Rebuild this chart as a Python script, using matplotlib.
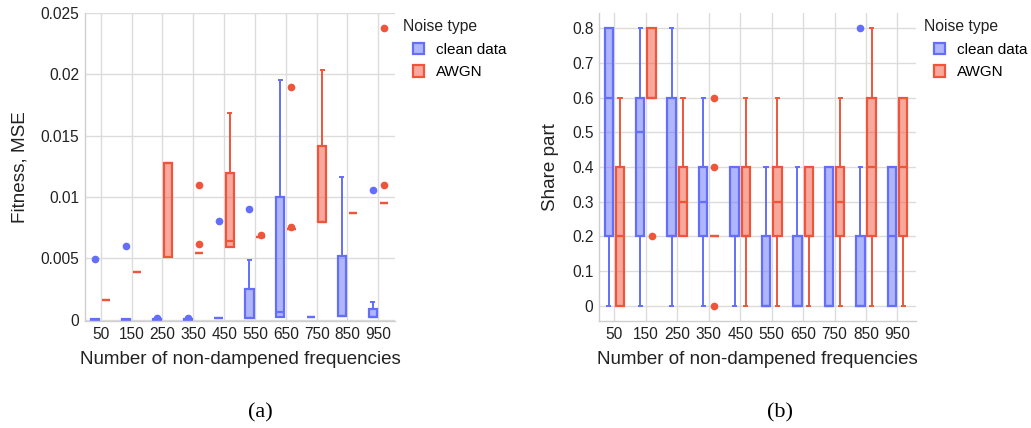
import matplotlib.pyplot as plt
from matplotlib.patches import Patch

freqs = [50, 150, 250, 350, 450, 550, 650, 750, 850, 950]
series = ["clean data", "AWGN"]
colors = ["#636EFA", "#EF553B"]

# (a) Fitness, MSE -- box statistics
mse_clean_lo = [0, 0, 0, 0, 0.0001, 0.0001, 0.00019, 0.00024, 0.00027, 0.00024]
mse_clean_q1 = [0, 0, 0, 0, 0.0001, 0.0001, 0.00019, 0.00024, 0.00027, 0.00024]
mse_clean_med = [0, 0, 0, 0, 0.0001, 0.0001, 0.00063, 0.00024, 0.00027, 0.00024]
mse_clean_q3 = [0.00003, 0.00003, 0.00003, 0.00003, 0.00012, 0.00253, 0.0100, 0.00024, 0.00516, 0.00084]
mse_clean_hi = [0.00003, 0.00003, 0.00003, 0.00003, 0.00012, 0.00489, 0.01956, 0.00024, 0.01163, 0.00141]
mse_clean_out = [[0.0049], [0.00596], [0.00012], [0.0001], [0.008], [0.00904], [], [], [], [0.0106]]

mse_awgn_lo = [0.00157, 0.00391, 0.00508, 0.00544, 0.00589, 0.0067, 0.00736, 0.00796, 0.00866, 0.00948]
mse_awgn_q1 = [0.00157, 0.00391, 0.00508, 0.00544, 0.00589, 0.0067, 0.00736, 0.00796, 0.00866, 0.00948]
mse_awgn_med = [0.00157, 0.00391, 0.01277, 0.00544, 0.00644, 0.0067, 0.00736, 0.00796, 0.00866, 0.00948]
mse_awgn_q3 = [0.00157, 0.00391, 0.01277, 0.00544, 0.01196, 0.0067, 0.00736, 0.01418, 0.00866, 0.00948]
mse_awgn_hi = [0.00157, 0.00391, 0.01277, 0.00544, 0.01685, 0.0067, 0.00736, 0.02035, 0.00866, 0.00948]
mse_awgn_out = [[], [], [], [0.011, 0.00617], [], [0.0069], [0.01893, 0.00755], [], [], [0.01095, 0.0238]]

# (b) Share part
share_clean_lo = [0, 0, 0, 0, 0, 0, 0, 0, 0, 0]
share_clean_q1 = [0.2, 0.2, 0.2, 0.2, 0.2, 0, 0, 0, 0, 0]
share_clean_med = [0.6, 0.5, 0.2, 0.3, 0.2, 0, 0, 0, 0, 0.2]
share_clean_q3 = [0.8, 0.6, 0.6, 0.4, 0.4, 0.2, 0.2, 0.4, 0.2, 0.4]
share_clean_hi = [0.8, 0.8, 0.8, 0.6, 0.4, 0.4, 0.4, 0.4, 0.4, 0.4]
share_clean_out = [[], [], [], [], [], [], [], [], [0.8], []]

share_awgn_lo = [0, 0.6, 0.2, 0.2, 0, 0, 0, 0, 0, 0]
share_awgn_q1 = [0, 0.6, 0.2, 0.2, 0.2, 0.2, 0.2, 0.2, 0.2, 0.2]
share_awgn_med = [0.2, 0.6, 0.3, 0.2, 0.2, 0.3, 0.2, 0.3, 0.4, 0.4]
share_awgn_q3 = [0.4, 0.8, 0.4, 0.2, 0.4, 0.4, 0.4, 0.4, 0.6, 0.6]
share_awgn_hi = [0.6, 0.8, 0.6, 0.2, 0.6, 0.6, 0.4, 0.6, 0.8, 0.6]
share_awgn_out = [[], [0.2], [], [0.6, 0.4, 0.0], [], [], [], [], [], []]

plt.rcParams['font.family'] = ['Liberation Sans', 'DejaVu Sans']


def make_stats(lo, q1, med, q3, hi, out):
    stats = []
    for i in range(len(lo)):
        stats.append({"whislo": lo[i], "q1": q1[i], "med": med[i],
                      "q3": q3[i], "whishi": hi[i], "fliers": out[i]})
    return stats


def draw_panel(ax, groups, ylabel, ylim, yticks, yticklabels, xlim):
    offsets = [-0.18, 0.18]
    for k, g in enumerate(groups):
        col = colors[k]
        pos = [i + offsets[k] for i in range(len(freqs))]
        ax.bxp(make_stats(*g), positions=pos, widths=0.27, patch_artist=True,
               capwidths=0.1, manage_ticks=False,
               boxprops=dict(facecolor=col + "80", edgecolor=col, linewidth=1.6),
               medianprops=dict(color=col, linewidth=1.6),
               whiskerprops=dict(color=col, linewidth=1.4),
               capprops=dict(color=col, linewidth=1.4),
               flierprops=dict(marker="o", markersize=4.5, markerfacecolor=col,
                               markeredgecolor=col, linestyle="none"))
    ax.set_xlim(*xlim)
    ax.set_ylim(*ylim)
    ax.set_xticks(range(len(freqs)))
    ax.set_xticklabels([str(f) for f in freqs])
    ax.set_yticks(yticks)
    ax.set_yticklabels(yticklabels)
    ax.grid(True, color="#dcdcdc", linewidth=1)
    ax.set_axisbelow(True)
    for s in ["top", "right"]:
        ax.spines[s].set_visible(False)
    for s in ["left", "bottom"]:
        ax.spines[s].set_color("#cfcfcf")
        ax.spines[s].set_linewidth(1)
    ax.tick_params(length=0, labelsize=11.2, colors="#222222", pad=4)
    ax.set_xlabel("Number of non-dampened frequencies", fontsize=13.5, color="#222222", labelpad=7)
    ax.set_ylabel(ylabel, fontsize=13.6, color="#222222", labelpad=9)


fig = plt.figure(figsize=(10.31, 4.28), dpi=100)

ax1 = fig.add_axes([85 / 1031, 107 / 428, 310 / 1031, 308 / 428])
draw_panel(ax1,
           [(mse_clean_lo, mse_clean_q1, mse_clean_med, mse_clean_q3, mse_clean_hi, mse_clean_out),
            (mse_awgn_lo, mse_awgn_q1, mse_awgn_med, mse_awgn_q3, mse_awgn_hi, mse_awgn_out)],
           "Fitness, MSE", (-0.00012, 0.025), [0, 0.005, 0.01, 0.015, 0.02, 0.025],
           ["0", "0.005", "0.01", "0.015", "0.02", "0.025"], (-0.51, 9.54))

ax2 = fig.add_axes([599 / 1031, 107 / 428, 317 / 1031, 308 / 428])
draw_panel(ax2,
           [(share_clean_lo, share_clean_q1, share_clean_med, share_clean_q3, share_clean_hi, share_clean_out),
            (share_awgn_lo, share_awgn_q1, share_awgn_med, share_awgn_q3, share_awgn_hi, share_awgn_out)],
           "Share part", (-0.044, 0.844), [0, 0.1, 0.2, 0.3, 0.4, 0.5, 0.6, 0.7, 0.8],
           ["0", "0.1", "0.2", "0.3", "0.4", "0.5", "0.6", "0.7", "0.8"], (-0.49, 9.59))

handles = [Patch(facecolor=c + "80", edgecolor=c, linewidth=1.6) for c in colors]
for x0 in [403, 924]:
    fig.text(x0 / 1031, 1 - 27 / 428, "Noise type", ha="left", va="center",
             fontsize=11.3, color="#222222")
    fig.legend(handles, series, loc="upper left",
               bbox_to_anchor=((x0 + 10) / 1031, 1 - 43 / 428), frameon=False,
               fontsize=11, borderpad=0, borderaxespad=0, handlelength=0.75,
               handleheight=0.75, handletextpad=0.75, labelspacing=0.55)

fig.text(260 / 1031, 1 - 413 / 428, "(a)", ha="center", va="center", fontsize=16,
         family="Liberation Serif")
fig.text(780 / 1031, 1 - 413 / 428, "(b)", ha="center", va="center", fontsize=16,
         family="Liberation Serif")

fig.savefig("out.png", dpi=100)
